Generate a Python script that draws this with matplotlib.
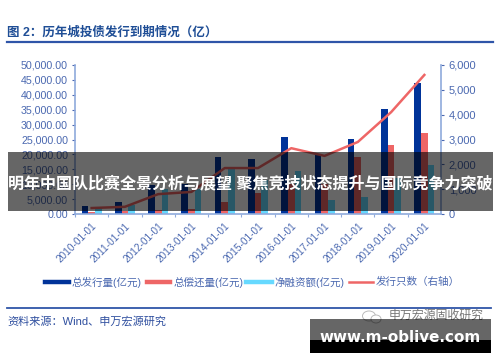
import matplotlib
matplotlib.use("Agg")
import matplotlib.pyplot as plt
import numpy as np
from matplotlib.patches import Rectangle, Ellipse
from matplotlib.lines import Line2D

plt.rcParams['font.family'] = ['Liberation Sans', 'Noto Sans CJK SC', 'DejaVu Sans']

years = ['2010-01-01','2011-01-01','2012-01-01','2013-01-01','2014-01-01','2015-01-01',
         '2016-01-01','2017-01-01','2018-01-01','2019-01-01','2020-01-01']
issued = [2800,3900,9700,10000,19000,18500,25800,20000,25200,35200,43800]
repaid = [800,900,1300,1700,4000,7000,10000,10000,19200,23100,27100]
net = [1900,3000,8300,8500,15000,11500,14500,4800,5600,12000,16500]
count = [240,290,800,890,1850,1850,2650,2340,2900,4100,5600]
left_ticks = np.arange(0,50001,5000)
right_ticks = np.arange(0,6001,1000)

W,H = 500,362
NAVY,RED,CYAN = '#003399','#EE6666','#66D9FF'
AX_C,TXT = '#8FAADC','#4A68B0'
fig = plt.figure(figsize=(W/100,H/100),dpi=100,facecolor='white')
def fx(x): return x/W
def fy(y): return 1-y/H

ax = fig.add_axes([fx(75),fy(214),(441-75)/W,(214-65)/H])
x = np.arange(len(years))
bw = 0.2
ax.bar(x-bw,issued,bw,color=NAVY,zorder=2)
ax.bar(x,repaid,bw,color=RED,zorder=2)
ax.bar(x+bw,net,bw,color=CYAN,zorder=2)
ax.set_xlim(-0.5,len(years)-0.5)
ax.set_ylim(0,50000)
ax.set_yticks(left_ticks)
ax.set_yticklabels([f'{v:,.2f}' for v in left_ticks],fontsize=7.7,color=TXT)
ax.set_xticks(x-0.5)
ax.set_xticks(x,minor=True)
ax.set_xticklabels([])
ax.set_xticklabels(years,minor=True,rotation=45,ha='right',rotation_mode='anchor',fontsize=7.2,color=TXT)
ax.tick_params(axis='x',which='minor',length=0,pad=5)
ax.tick_params(axis='x',which='major',length=2.5,color=AX_C,direction='out')
ax.tick_params(axis='y',length=2.5,color=TXT,pad=2.5)
for s in ['top','right']:
    ax.spines[s].set_visible(False)
for s in ['left','bottom']:
    ax.spines[s].set_color(AX_C)
    ax.spines[s].set_linewidth(1.2)

ax2 = ax.twinx()
ax2.plot(x,count,color=RED,lw=1.8,zorder=3)
ax2.set_ylim(0,6000)
ax2.set_yticks(right_ticks)
ax2.set_yticklabels([f'{v:,d}' for v in right_ticks],fontsize=8,color=TXT)
ax2.tick_params(axis='y',length=2.5,color=TXT,pad=3)
for s in ['top','left','bottom']:
    ax2.spines[s].set_visible(False)
ax2.spines['right'].set_color(AX_C)
ax2.spines['right'].set_linewidth(1.2)

def T(px,py,s,**k):
    k.setdefault('va','center')
    return fig.text(fx(px),fy(py),s,**k)
def L(x0,x1,y,c,lw):
    fig.add_artist(Line2D([fx(x0),fx(x1)],[fy(y),fy(y)],color=c,lw=lw))
def R(x0,y0,x1,y1,c,a=1,z=10):
    fig.add_artist(Rectangle((fx(x0),fy(y1)),(x1-x0)/W,(y1-y0)/H,transform=fig.transFigure,
                             facecolor=c,alpha=a,edgecolor='none',zorder=z))

T(7,33,'图 2\uff1a历年城投债发行到期情况\uff08亿\uff09',fontsize=9,fontweight='bold',color='#1F4E96')
L(7,493,41.7,'#2F55A8',1.6)
L(7,491,308,'#2F55A8',1.3)
T(7,321,'资料来源\uff1aWind\u3001申万宏源研究',fontsize=8,color='#2F4F9F')

# legend
for x0,x1,c,lw in [(45,69,NAVY,3.2),(147,170,RED,3.2),(246,272,CYAN,3.2),(349,373,RED,1.8)]:
    L(x0,x1,282,c,lw)
for px,s in [(72,'总发行量(亿元)'),(174,'总偿还量(亿元)'),(274,'净融资额(亿元)'),(376,'发行只数\uff08右轴\uff09')]:
    T(px,282,s,fontsize=7.6,color=TXT)

# overlay banner
R(8,152,493,211,'black',0.6)
T(250.5,183,'明年中国队比赛全景分析与展望 聚焦竞技状态提升与国际竞争力突破',ha='center',
  fontsize=11.55,fontweight='bold',color='white',zorder=11)

# watermark
for cx,cy,w,h in [(369,316,13,10),(376,319,10,8)]:
    fig.add_artist(Ellipse((fx(cx),fy(cy)),w/W,h/H,transform=fig.transFigure,facecolor='white',
                           edgecolor='#BBBBBB',lw=0.7))
T(389,316,'申万宏源固收研究',fontsize=8.6,color='#777777')
R(310,319,491,340,'black',0.6)
R(310,340,491,353,'black',1)
T(400,337,'www.m-oblive.com',ha='center',fontsize=10.9,fontweight='bold',color='white',
  family=['DejaVu Sans'],zorder=11)

fig.savefig('out.png',dpi=100)
